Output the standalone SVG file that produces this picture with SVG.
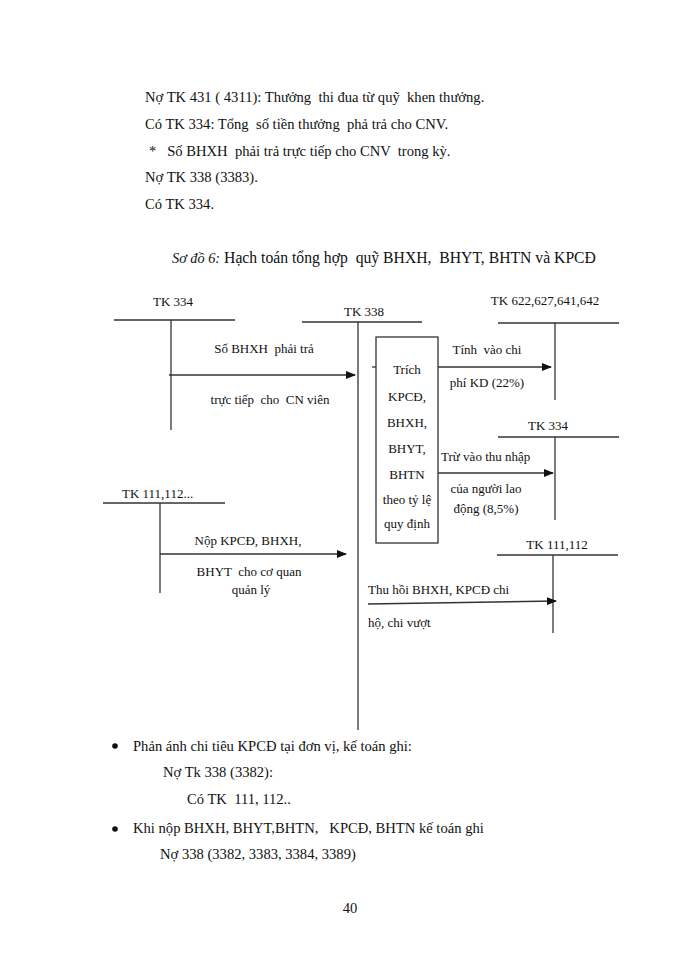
<svg xmlns="http://www.w3.org/2000/svg" width="700" height="960" viewBox="0 0 700 960">
<style>
text{font-family:"Liberation Serif","Times New Roman",serif;fill:#111;white-space:pre}
.t{font-size:14.6px}
.d{font-size:13px}
.m{text-anchor:middle}
.ln{stroke:#333;stroke-width:1.3;fill:none}
</style>
<defs>
<marker id="ah" markerWidth="10" markerHeight="8" refX="9" refY="4" orient="auto" markerUnits="userSpaceOnUse">
<path d="M0,0 L10,4 L0,8 Z" fill="#111"/>
</marker>
</defs>
<rect width="700" height="960" fill="#fff"/>
<g id="intro">
<text class="t" x="145" y="102" xml:space="preserve">Nợ TK 431 ( 4311): Thưởng  thi đua từ quỹ  khen thưởng.</text>
<text class="t" x="145" y="129" xml:space="preserve">Có TK 334: Tổng  số tiền thưởng  phả trả cho CNV.</text>
<text class="t" x="149" y="156" xml:space="preserve">*   Số BHXH  phải trả trực tiếp cho CNV  trong kỳ.</text>
<text class="t" x="145" y="182">Nợ TK 338 (3383).</text>
<text class="t" x="145" y="209">Có TK 334.</text>
</g>
<g id="title">
<text x="172" y="263" style="font-size:15.7px" xml:space="preserve"><tspan font-style="italic" style="font-size:14.3px">Sơ đồ 6:</tspan> Hạch toán tổng hợp  quỹ BHXH,  BHYT, BHTN và KPCĐ</text>
</g>
<g id="tk334-left">
<text class="d m" x="173" y="306">TK 334</text>
<line class="ln" x1="114" y1="320" x2="235" y2="320"/>
<line class="ln" x1="171" y1="320" x2="171" y2="430"/>
</g>
<g id="tk338">
<text class="d m" x="364" y="316">TK 338</text>
<line class="ln" x1="302" y1="322" x2="422" y2="322"/>
<line class="ln" x1="358" y1="322" x2="358" y2="730"/>
</g>
<g id="box">
<rect class="ln" x="376" y="337" width="62" height="206"/>
<text class="d m" x="407" y="374">Trích</text>
<text class="d m" x="407" y="401">KPCĐ,</text>
<text class="d m" x="407" y="427">BHXH,</text>
<text class="d m" x="407" y="453">BHYT,</text>
<text class="d m" x="407" y="479">BHTN</text>
<text class="d m" x="407" y="504">theo tỷ lệ</text>
<text class="d m" x="407" y="528">quy định</text>
</g>
<g id="tk622">
<text class="d m" x="545" y="305">TK 622,627,641,642</text>
<line class="ln" x1="498" y1="323" x2="619" y2="323"/>
<line class="ln" x1="555" y1="323" x2="555" y2="400"/>
</g>
<g id="tk334-right">
<text class="d m" x="548" y="430">TK 334</text>
<line class="ln" x1="498" y1="437" x2="619" y2="437"/>
<line class="ln" x1="555" y1="437" x2="555" y2="520"/>
</g>
<g id="tk111-right">
<text class="d m" x="557" y="549">TK 111,112</text>
<line class="ln" x1="497" y1="555" x2="618" y2="555"/>
<line class="ln" x1="553" y1="555" x2="553" y2="633"/>
</g>
<g id="tk111-left">
<text class="d" x="122" y="498">TK 111,112...</text>
<line class="ln" x1="103" y1="503" x2="225" y2="503"/>
<line class="ln" x1="160" y1="503" x2="160" y2="593"/>
</g>
<g id="connectors">
<line class="ln" x1="169" y1="375" x2="355" y2="375" marker-end="url(#ah)"/>
<line class="ln" x1="372" y1="367" x2="376" y2="367"/>
<line class="ln" x1="438" y1="367" x2="551" y2="367" marker-end="url(#ah)"/>
<line class="ln" x1="438" y1="473" x2="553" y2="473" marker-end="url(#ah)"/>
<line class="ln" x1="160" y1="554" x2="346" y2="554" marker-end="url(#ah)"/>
<line class="ln" x1="368" y1="604" x2="556" y2="601" marker-end="url(#ah)"/>
</g>
<g id="labels">
<text class="d m" x="264" y="353" xml:space="preserve">Số BHXH  phải trả</text>
<text class="d m" x="270" y="404" xml:space="preserve">trực tiếp  cho  CN viên</text>
<text class="d m" x="487" y="354" xml:space="preserve">Tính  vào chi</text>
<text class="d m" x="487" y="387">phí KD (22%)</text>
<text class="d" x="441" y="461">Trừ vào thu nhập</text>
<text class="d m" x="486" y="493">của người lao</text>
<text class="d m" x="486" y="513">động (8,5%)</text>
<text class="d m" x="248" y="545">Nộp KPCĐ, BHXH,</text>
<text class="d m" x="249" y="576" xml:space="preserve">BHYT  cho cơ quan</text>
<text class="d m" x="251" y="594">quản lý</text>
<text class="d" x="368" y="594">Thu hồi BHXH, KPCĐ chi</text>
<text class="d" x="368" y="627">hộ, chi vượt</text>
</g>
<g id="outro">
<circle cx="115" cy="746" r="2.8" fill="#111"/>
<text class="t" x="133" y="751">Phản ánh chi tiêu KPCĐ tại đơn vị, kế toán ghi:</text>
<text class="t" x="163" y="777">Nợ Tk 338 (3382):</text>
<text class="t" x="187" y="804" xml:space="preserve">Có TK  111, 112..</text>
<circle cx="115" cy="829" r="2.8" fill="#111"/>
<text class="t" x="133" y="833" xml:space="preserve">Khi nộp BHXH, BHYT,BHTN,   KPCĐ, BHTN kế toán ghi</text>
<text class="t" x="160" y="859">Nợ 338 (3382, 3383, 3384, 3389)</text>
<text class="t m" x="350" y="913">40</text>
</g>
</svg>
